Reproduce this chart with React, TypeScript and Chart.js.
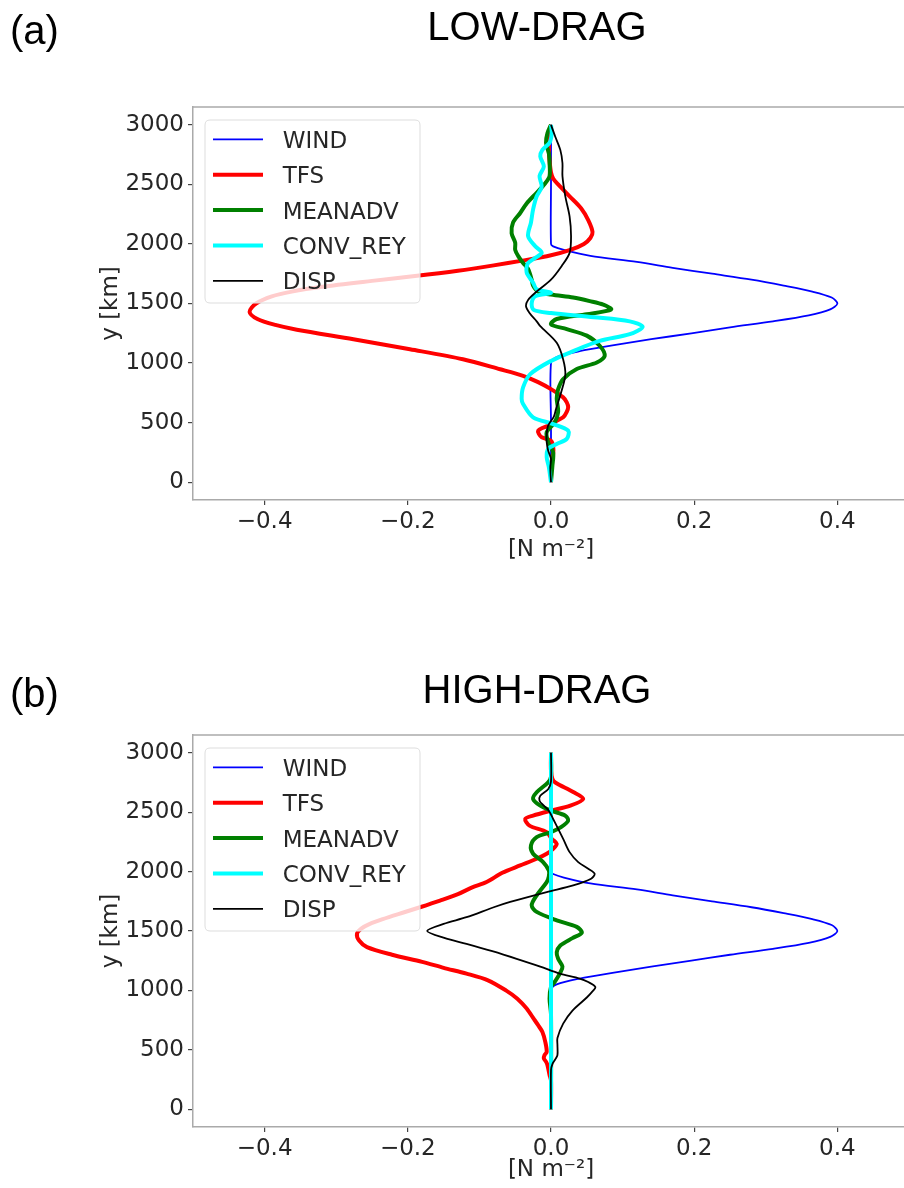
import React, { useEffect, useRef } from 'react';
import { Chart, registerables } from 'chart.js';

Chart.register(...registerables);

// Each profile is a list of [y (km), value (N m^-2)].
type Pt = [number, number];

const SERIES = ['WIND', 'TFS', 'MEANADV', 'CONV_REY', 'DISP'];
const X_TICKS = [-0.4, -0.2, 0, 0.2, 0.4];
const Y_TICKS = [0, 500, 1000, 1500, 2000, 2500, 3000];
const X_LABEL = '[N m⁻²]';
const Y_LABEL = 'y [km]';

const WIND: Pt[] = [
  [0, 0], [500, 0], [1000, 0], [1050, 0.008], [1100, 0.04], [1150, 0.088], [1200, 0.14],
  [1250, 0.196], [1300, 0.25], [1350, 0.31], [1400, 0.36], [1450, 0.39], [1500, 0.4],
  [1550, 0.392], [1600, 0.365], [1650, 0.325], [1700, 0.28], [1750, 0.225], [1800, 0.17],
  [1850, 0.12], [1900, 0.055], [1950, 0.018], [1980, 0.003], [2000, 0], [2500, 0], [3000, 0],
];

const TFS_LOW: Pt[] = [
  [0, 0], [150, 0], [237, 0.003], [300, 0.003], [348, 0], [377, -0.013], [405, -0.017],
  [432, -0.018], [455, -0.012], [482, 0], [516, 0.008], [544, 0.017], [590, 0.022],
  [630, 0.024], [670, 0.022], [712, 0.017], [781, 0], [840, -0.018], [893, -0.039],
  [948, -0.071], [1032, -0.123], [1116, -0.197], [1200, -0.276], [1280, -0.355],
  [1320, -0.385], [1370, -0.41], [1430, -0.421], [1500, -0.412], [1560, -0.39],
  [1600, -0.362], [1640, -0.32], [1690, -0.25], [1730, -0.19], [1775, -0.13],
  [1820, -0.08], [1860, -0.04], [1905, 0], [1950, 0.027], [2000, 0.046], [2050, 0.055],
  [2100, 0.058], [2200, 0.052], [2300, 0.042], [2400, 0.026], [2500, 0.01], [2550, 0.003],
  [2600, 0], [2700, -0.002], [2800, -0.003], [2900, -0.002], [3000, 0],
];

const MEANADV_LOW: Pt[] = [
  [0, 0], [140, 0.002], [250, 0.003], [335, -0.004], [420, -0.006], [500, 0.005],
  [590, 0.01], [700, 0.008], [780, 0.01], [865, 0.017], [950, 0.036], [1005, 0.064],
  [1060, 0.075], [1145, 0.068], [1230, 0.05], [1285, 0.022], [1325, 0], [1370, 0.008],
  [1410, 0.05], [1450, 0.084], [1490, 0.073], [1520, 0.054], [1550, 0.031], [1575, 0],
  [1600, -0.018], [1650, -0.025], [1700, -0.027], [1790, -0.032], [1840, -0.039],
  [1900, -0.046], [1950, -0.05], [2010, -0.05], [2090, -0.055], [2180, -0.053],
  [2260, -0.043], [2340, -0.034], [2430, -0.02], [2510, -0.008], [2570, -0.002],
  [2680, -0.002], [2760, -0.003], [2850, -0.007], [2930, -0.005], [3000, 0],
];

const CONV_REY_LOW: Pt[] = [
  [0, 0], [126, -0.003], [209, -0.006], [279, -0.004], [321, 0.008], [363, 0.022],
  [432, 0.024], [488, 0.003], [544, -0.025], [656, -0.039], [700, -0.041], [795, -0.039],
  [907, -0.029], [1018, 0], [1100, 0.031], [1186, 0.068], [1242, 0.11], [1305, 0.128],
  [1350, 0.11], [1385, 0.06], [1420, 0], [1445, -0.024], [1500, -0.027], [1560, -0.022],
  [1590, 0], [1620, -0.02], [1675, -0.025], [1760, -0.034], [1840, -0.032], [1925, -0.013],
  [1980, -0.022], [2065, -0.032], [2180, -0.028], [2290, -0.025], [2400, -0.02],
  [2480, -0.013], [2570, -0.016], [2650, -0.01], [2735, -0.015], [2790, -0.012],
  [2850, -0.002], [2930, 0.001], [3000, 0],
];

const DISP_LOW: Pt[] = [
  [0, 0], [126, -0.001], [195, 0], [265, -0.004], [335, -0.006], [400, -0.006],
  [474, -0.004], [550, 0.004], [614, 0.007], [750, 0.014], [900, 0.02], [1030, 0.017],
  [1170, 0.008], [1310, -0.015], [1350, -0.02], [1420, -0.03], [1480, -0.035],
  [1530, -0.032], [1590, -0.022], [1700, 0], [1815, 0.015], [1925, 0.026], [2065, 0.028],
  [2230, 0.026], [2400, 0.02], [2570, 0.016], [2680, 0.016], [2790, 0.013], [2900, 0.006],
  [3000, 0],
];

const TFS_HIGH: Pt[] = [
  [0, 0], [240, 0], [288, -0.002], [372, -0.005], [400, -0.007], [428, -0.01], [455, -0.009],
  [483, -0.006], [567, -0.008], [650, -0.012], [707, -0.018], [760, -0.024], [847, -0.034],
  [930, -0.047], [1000, -0.063], [1085, -0.088], [1141, -0.118], [1190, -0.15],
  [1240, -0.18], [1300, -0.222], [1364, -0.257], [1420, -0.268], [1476, -0.271],
  [1520, -0.265], [1560, -0.253], [1600, -0.235], [1658, -0.205], [1700, -0.183],
  [1756, -0.155], [1810, -0.13], [1867, -0.11], [1912, -0.09], [1990, -0.068],
  [2052, -0.043], [2108, -0.02], [2150, -0.006], [2192, 0.003], [2234, 0.008],
  [2276, 0.001], [2332, -0.006], [2387, -0.03], [2443, -0.036], [2471, -0.025], [2513, 0],
  [2555, 0.027], [2612, 0.045], [2670, 0.031], [2750, 0.006], [2780, 0.002], [2850, 0],
  [3000, 0],
];

const MEANADV_HIGH: Pt[] = [
  [0, 0], [800, 0], [930, -0.002], [1030, 0], [1070, 0.005], [1150, 0.013], [1200, 0.016],
  [1266, 0.01], [1320, 0.008], [1378, 0.013], [1440, 0.03], [1485, 0.043], [1535, 0.036],
  [1590, 0.008], [1661, -0.02], [1716, -0.027], [1800, -0.02], [1912, -0.006],
  [1960, -0.003], [2010, -0.003], [2080, -0.011], [2150, -0.025], [2220, -0.028],
  [2290, -0.02], [2332, 0], [2374, 0.014], [2429, 0.024], [2471, 0.02], [2513, 0],
  [2555, -0.015], [2612, -0.025], [2668, -0.02], [2752, -0.004], [2800, 0], [3000, 0],
];

const CONV_REY_HIGH: Pt[] = [
  [0, 0], [500, 0], [1000, 0], [1500, 0], [2000, 0], [2500, 0], [3000, 0],
];

const DISP_HIGH: Pt[] = [
  [0, 0], [330, 0], [380, 0.002], [420, 0.006], [455, 0.009], [540, 0.009], [600, 0.009],
  [720, 0.017], [830, 0.03], [940, 0.05], [985, 0.057], [1028, 0.062], [1070, 0.052],
  [1100, 0.04], [1141, 0.012], [1200, -0.015], [1266, -0.048], [1330, -0.082],
  [1392, -0.118], [1440, -0.148], [1500, -0.173], [1560, -0.15], [1616, -0.118],
  [1700, -0.08], [1745, -0.057], [1828, -0.006], [1884, 0.031], [1940, 0.056],
  [1982, 0.061], [2024, 0.052], [2080, 0.038], [2164, 0.026], [2276, 0.017], [2360, 0.01],
  [2443, 0.003], [2513, -0.003], [2555, -0.01], [2597, -0.016], [2638, -0.015],
  [2694, -0.004], [2760, 0], [3000, 0],
];

const LINE_COLORS = ['#0000ff', '#ff0000', '#008000', '#00ffff', '#000000'];
const LINE_WIDTHS = [1.8, 4, 4, 4, 1.8];

const TICK_FONT = { family: 'DejaVu Sans', size: 23 };
const TEXT_FONT = '23px "DejaVu Sans"';
const HEAD_FONT = '40px "Liberation Sans", Arial, sans-serif';
const TEXT_COLOR = '#262626';
const SPINE_COLOR = '#aaaaaa';

interface PanelSpec {
  key: string;
  top: number;
  height: number;
  tag: string;
  title: string;
  tagBaseline: number;
  titleBaseline: number;
  padBottom: number;
  xLabelY: number;
  profiles: Pt[][];
}

const PANELS: PanelSpec[] = [
  {
    key: 'a', top: 0, height: 628, tag: '(a)', title: 'LOW-DRAG',
    tagBaseline: 43.5, titleBaseline: 39.5, padBottom: 68, xLabelY: 550,
    profiles: [WIND, TFS_LOW, MEANADV_LOW, CONV_REY_LOW, DISP_LOW],
  },
  {
    key: 'b', top: 628, height: 560, tag: '(b)', title: 'HIGH-DRAG',
    tagBaseline: 79, titleBaseline: 75, padBottom: 1, xLabelY: 542,
    profiles: [WIND, TFS_HIGH, MEANADV_HIGH, CONV_REY_HIGH, DISP_HIGH],
  },
];

const CANVAS_W = 912;

function fmtX(v: number): string {
  const r = Math.round(v * 10) / 10;
  if (Math.abs(r) < 1e-9) return '0.0';
  return (r < 0 ? '\u2212' : '') + Math.abs(r).toFixed(1);
}

function Panel({ spec }: { spec: PanelSpec }) {
  const ref = useRef<HTMLCanvasElement>(null);

  useEffect(() => {
    const canvas = ref.current;
    if (!canvas) return;

    const datasets = SERIES.map((name, i) => ({
      label: name,
      data: spec.profiles[i].map(([y, v]) => ({ x: v, y })),
      borderColor: LINE_COLORS[i],
      backgroundColor: LINE_COLORS[i],
      borderWidth: LINE_WIDTHS[i],
      pointRadius: 0,
      pointHoverRadius: 0,
      showLine: true,
      fill: false,
      tension: 0.3,
      order: SERIES.length - i,
    }));

    const decor = {
      id: 'decor',
      afterDraw(chart: any) {
        const ctx = chart.ctx as CanvasRenderingContext2D;
        const a = chart.chartArea;
        ctx.save();

        // top spine
        ctx.strokeStyle = SPINE_COLOR;
        ctx.lineWidth = 1.5;
        ctx.beginPath();
        ctx.moveTo(a.left, a.top);
        ctx.lineTo(a.right, a.top);
        ctx.lineTo(a.right, a.bottom);
        ctx.stroke();

        // legend
        const lx = 205, ly = a.top + 13, lw = 215, lh = 183, r = 5;
        ctx.beginPath();
        ctx.moveTo(lx + r, ly);
        ctx.lineTo(lx + lw - r, ly);
        ctx.quadraticCurveTo(lx + lw, ly, lx + lw, ly + r);
        ctx.lineTo(lx + lw, ly + lh - r);
        ctx.quadraticCurveTo(lx + lw, ly + lh, lx + lw - r, ly + lh);
        ctx.lineTo(lx + r, ly + lh);
        ctx.quadraticCurveTo(lx, ly + lh, lx, ly + lh - r);
        ctx.lineTo(lx, ly + r);
        ctx.quadraticCurveTo(lx, ly, lx + r, ly);
        ctx.closePath();
        ctx.fillStyle = 'rgba(255,255,255,0.8)';
        ctx.fill();
        ctx.strokeStyle = '#dddddd';
        ctx.lineWidth = 1;
        ctx.stroke();

        ctx.font = TEXT_FONT;
        ctx.textAlign = 'left';
        ctx.textBaseline = 'alphabetic';
        SERIES.forEach((name, i) => {
          const cy = a.top + 32.3 + i * 35.4;
          ctx.strokeStyle = LINE_COLORS[i];
          ctx.lineWidth = LINE_WIDTHS[i];
          ctx.beginPath();
          ctx.moveTo(213, cy);
          ctx.lineTo(263, cy);
          ctx.stroke();
          ctx.fillStyle = TEXT_COLOR;
          ctx.fillText(name, 282.7, cy + 8.5);
        });

        // axis titles
        ctx.fillStyle = TEXT_COLOR;
        ctx.font = TEXT_FONT;
        ctx.textAlign = 'center';
        ctx.textBaseline = 'middle';
        ctx.fillText(X_LABEL, (a.left + a.right) / 2, spec.xLabelY);
        ctx.save();
        ctx.translate(111, (a.top + a.bottom) / 2);
        ctx.rotate(-Math.PI / 2);
        ctx.fillText(Y_LABEL, 0, 0);
        ctx.restore();

        // panel tag and heading
        ctx.fillStyle = '#000000';
        ctx.font = HEAD_FONT;
        ctx.textBaseline = 'alphabetic';
        ctx.textAlign = 'left';
        ctx.fillText(spec.tag, 10, spec.tagBaseline);
        ctx.textAlign = 'center';
        ctx.fillText(spec.title, 537, spec.titleBaseline);

        ctx.restore();
      },
    };

    const chart = new Chart(canvas, {
      type: 'scatter',
      data: { datasets } as any,
      options: {
        responsive: false,
        animation: false,
        events: [],
        layout: { padding: { left: 0, right: 3, top: 107, bottom: spec.padBottom } },
        plugins: {
          legend: { display: false },
          tooltip: { enabled: false },
          title: { display: false },
        },
        scales: {
          x: {
            type: 'linear',
            min: -0.5,
            max: 0.5,
            afterBuildTicks: (s: any) => { s.ticks = X_TICKS.map((v) => ({ value: v })); },
            afterFit: (s: any) => { s.height = 60; },
            ticks: {
              callback: (v: any) => fmtX(Number(v)),
              font: TICK_FONT,
              color: TEXT_COLOR,
              padding: 3,
              maxRotation: 0,
              autoSkip: false,
            },
            grid: { display: true, drawOnChartArea: false, drawTicks: true, tickLength: 5, color: '#444444', lineWidth: 1.2 },
            border: { display: true, color: SPINE_COLOR, width: 1.5 },
          },
          y: {
            type: 'linear',
            min: -150,
            max: 3150,
            afterBuildTicks: (s: any) => { s.ticks = Y_TICKS.map((v) => ({ value: v })); },
            afterFit: (s: any) => { s.width = 193; },
            ticks: {
              callback: (v: any) => String(v),
              font: TICK_FONT,
              color: TEXT_COLOR,
              padding: 4,
              autoSkip: false,
            },
            grid: { display: true, drawOnChartArea: false, drawTicks: true, tickLength: 5, color: '#444444', lineWidth: 1.2 },
            border: { display: true, color: SPINE_COLOR, width: 1.5 },
          },
        },
      } as any,
      plugins: [decor],
    });

    return () => chart.destroy();
  }, [spec]);

  return (
    <canvas
      ref={ref}
      width={CANVAS_W}
      height={spec.height}
      style={{ position: 'absolute', left: 0, top: spec.top, width: CANVAS_W, height: spec.height, display: 'block' }}
    />
  );
}

export default function App() {
  return (
    <div
      style={{
        position: 'absolute', left: 0, top: 0, width: 904, height: 1188,
        overflow: 'hidden', background: '#ffffff',
      }}
    >
      {PANELS.map((p) => <Panel key={p.key} spec={p} />)}
    </div>
  );
}
